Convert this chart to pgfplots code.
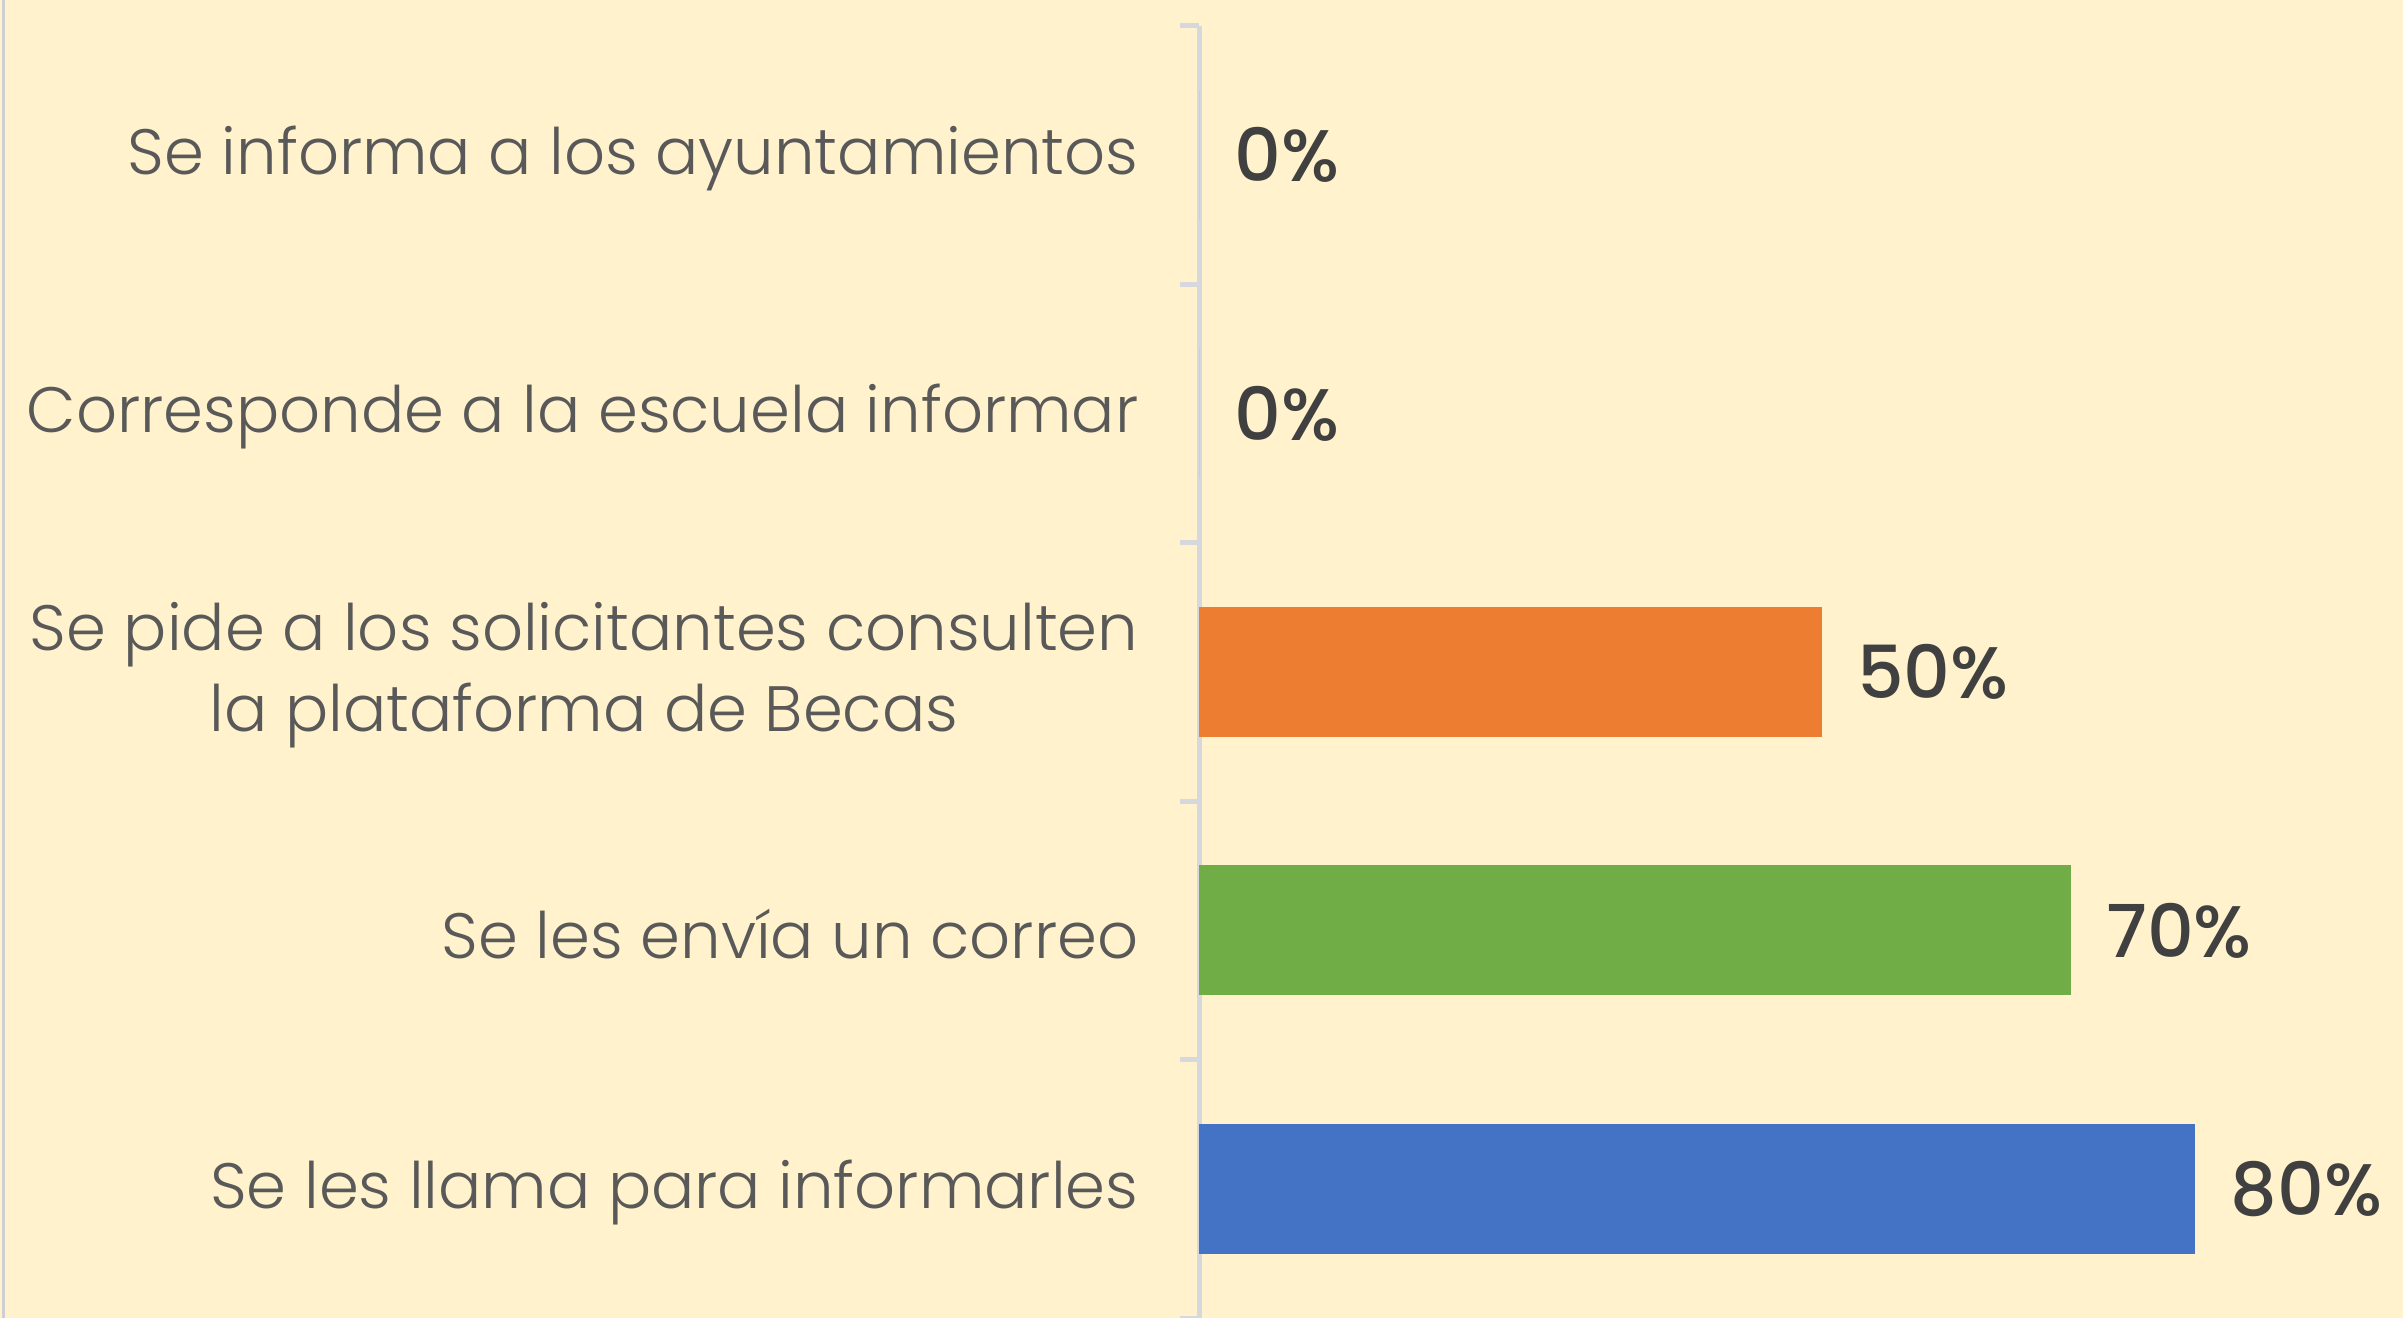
\documentclass[border=0pt]{standalone}
\usepackage{pgfplots}
\pgfplotsset{compat=1.18}
\usepackage{fontspec}
\setmainfont{Poppins Light}
\newfontfamily\numfont{Poppins Medium}
\definecolor{bg}{HTML}{FFF2CC}
\definecolor{axisgray}{HTML}{D6D8DE}
\definecolor{labelgray}{HTML}{595959}
\definecolor{numgray}{HTML}{404040}
\definecolor{cblue}{HTML}{4472C4}
\definecolor{cgreen}{HTML}{70AD47}
\definecolor{corange}{HTML}{ED7D31}
\begin{document}
\begin{tikzpicture}
\fill[bg] (0,0) rectangle (720.9bp,395.4bp);
\useasboundingbox (0,0) rectangle (720.9bp,395.4bp);
\draw[line width=1bp, color=axisgray!90!gray] (1bp,0) -- (1bp,395.4bp);
\begin{axis}[
  at={(359.7bp,0bp)}, anchor=south west,
  scale only axis, width=361.2bp, height=387.6bp,
  xbar, bar width=39bp, bar shift=0pt,
  xmin=0, xmax=96.7, ymin=-0.5, ymax=4.5,
  clip=false,
  hide x axis,
  axis y line*=left,
  axis line style={draw=axisgray, line width=1.5bp, -},
  ytick={0,1,2,3,4},
  yticklabels={Se les llama para informarles, Se les envía un correo, {Se pide a los solicitantes consulten\\la plataforma de Becas}, Corresponde a la escuela informar, Se informa a los ayuntamientos},
  major tick length=0pt,
  minor ytick={-0.5,0.5,1.5,2.5,3.5,4.5},
  minor tick length=5.8bp,
  tick align=outside,
  minor tick style={draw=axisgray, line width=1.5bp},
  yticklabel style={font=\fontsize{19.3}{24.4}\selectfont, text=labelgray, align=center, inner sep=0pt, xshift=-18bp, yshift=-1bp},
  /pgf/number format/assume math mode=true,
  nodes near coords={\pgfmathprintnumber{\pgfplotspointmeta}\%},
  point meta=x,
  every node near coord/.append style={anchor=west, inner sep=0pt, xshift=10.5bp, font=\numfont\fontsize{22}{26}\selectfont, text=numgray},
]
\addplot[draw=none, fill=cblue] coordinates {(80,0)};
\addplot[draw=none, fill=cgreen] coordinates {(70,1)};
\addplot[draw=none, fill=corange] coordinates {(50,2)};
\addplot[draw=none, fill=corange] coordinates {(0,3)};
\addplot[draw=none, fill=corange] coordinates {(0,4)};
\end{axis}
\end{tikzpicture}
\end{document}
